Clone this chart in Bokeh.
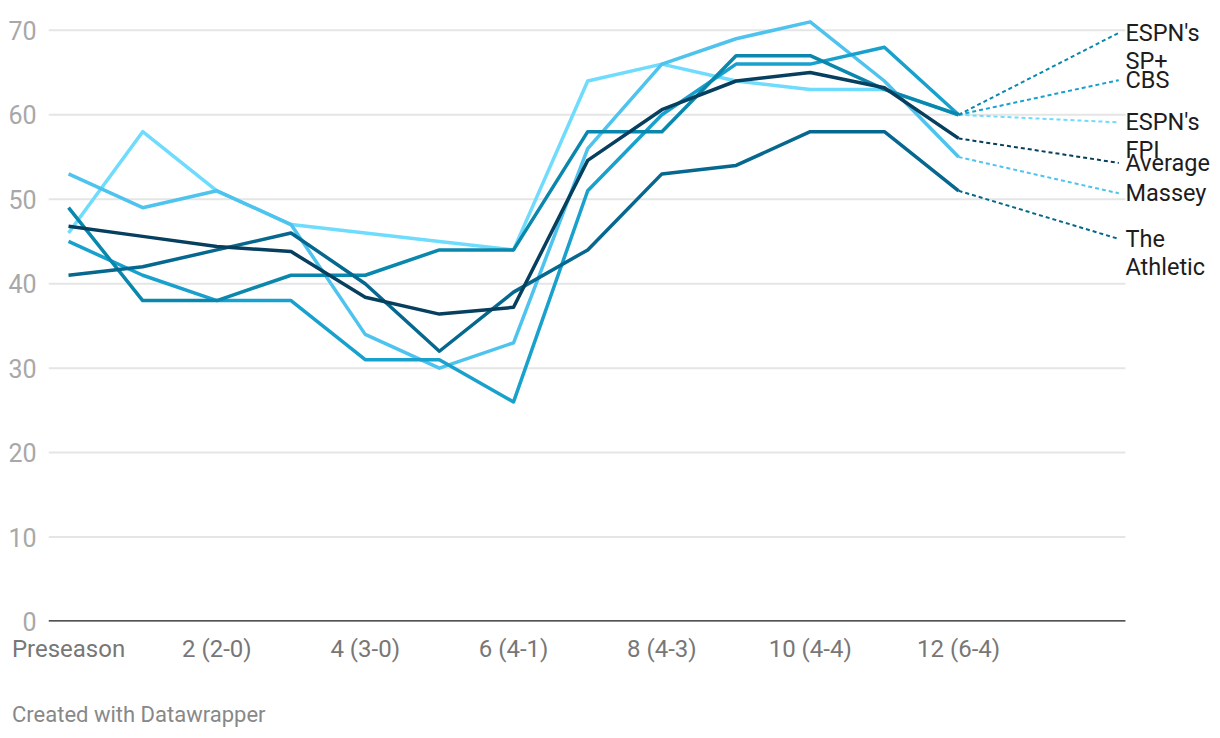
from bokeh.plotting import figure
from bokeh.models import FixedTicker, Range1d, ColumnDataSource, Div
from bokeh.layouts import column
from bokeh.embed import file_html
from bokeh.resources import INLINE

# ---- data ----
weeks = list(range(13))
tick_weeks = [0, 2, 4, 6, 8, 10, 12]
tick_labels = ["Preseason", "2 (2-0)", "4 (3-0)", "6 (4-1)", "8 (4-3)", "10 (4-4)", "12 (6-4)"]
y_ticks = [0, 10, 20, 30, 40, 50, 60, 70]

espn_fpi = [46, 58, 51, 47, 46, 45, 44, 64, 66, 64, 63, 63, 60]
massey = [53, 49, 51, 47, 34, 30, 33, 56, 66, 69, 71, 64, 55]
cbs = [45, 41, 38, 38, 31, 31, 26, 51, 60, 66, 66, 68, 60]
espn_sp = [49, 38, 38, 41, 41, 44, 44, 58, 58, 67, 67, 63, 60]
athletic = [41, 42, 44, 46, 40, 32, 39, 44, 53, 54, 58, 58, 51]
average = [46.8, 45.6, 44.4, 43.8, 38.4, 36.4, 37.2, 54.6, 60.6, 64.0, 65.0, 63.2, 57.2]

series_names = [["ESPN's", "FPI"], ["Massey"], ["CBS"], ["ESPN's", "SP+"], ["The", "Athletic"], ["Average"]]
series_values = [espn_fpi, massey, cbs, espn_sp, athletic, average]

# ---- styles / layout ----
colors = ["#6fdcfd", "#4dc3ee", "#18a1cd", "#0987ad", "#06688f", "#073f5e"]
label_y = [59.1, 50.7, 64.1, 69.7, 45.3, 54.3]
FONT = "Roboto"

W, H = 1212, 680
BL, BT, BB = 48, 18, 59
Y0, Y1 = 0, 71.4
X0 = -0.27
PLOT_END = 14.25          # right edge of grid area
px_per_x = 74.17
X1 = X0 + (W - BL) / px_per_x
px_per_y = (H - BT - BB) / (Y1 - Y0)
LINE_GAP = 28 / px_per_y

p = figure(width=W, height=H, output_backend="svg", toolbar_location=None,
           x_range=Range1d(X0, X1), y_range=Range1d(Y0, Y1),
           min_border_left=BL, min_border_right=0, min_border_top=BT, min_border_bottom=BB)
p.outline_line_color = None
p.background_fill_color = "white"
p.border_fill_color = "white"

p.xgrid.visible = False
p.ygrid.visible = False

# horizontal gridlines limited to the plot area (not under the labels)
grid_y = [t for t in y_ticks if t != 0]
p.segment(x0=[X0] * len(grid_y), x1=[PLOT_END] * len(grid_y), y0=grid_y, y1=grid_y,
          line_color="#e5e5e5", line_width=2)

p.yaxis.ticker = FixedTicker(ticks=y_ticks)
p.yaxis.axis_line_color = None
p.yaxis.major_tick_line_color = None
p.yaxis.minor_tick_line_color = None
p.yaxis.major_label_text_color = "#a8a8a8"
p.yaxis.major_label_text_font = FONT
p.yaxis.major_label_text_font_size = "25px"
p.yaxis.major_label_standoff = 6

p.xaxis.ticker = FixedTicker(ticks=tick_weeks)
p.xaxis.major_label_overrides = {w: t for w, t in zip(tick_weeks, tick_labels)}
p.xaxis.axis_line_color = None
p.xaxis.major_tick_line_color = None
p.xaxis.minor_tick_line_color = None
p.xaxis.major_label_text_color = "#777777"
p.xaxis.major_label_text_font = FONT
p.xaxis.major_label_text_font_size = "24px"
p.xaxis.major_label_standoff = 7

last_x = weeks[-1]
end_x = 14.16
text_x = 14.25
lx, ly_all, lt = [], [], []
for names, vals, col, ly in zip(series_names, series_values, colors, label_y):
    p.line(weeks, vals, line_color=col, line_width=3.5, line_join="round")
    p.line([last_x, end_x], [vals[-1], ly], line_color=col, line_width=2, line_dash="4 3")
    for i, nm in enumerate(names):
        lx.append(text_x)
        ly_all.append(ly - i * LINE_GAP)
        lt.append(nm)

# zero baseline
p.segment(x0=[X0], x1=[PLOT_END], y0=[0], y1=[0], line_color="#1a1a1a", line_width=2.5)

src = ColumnDataSource(dict(x=lx, y=ly_all, text=lt))
p.text(x="x", y="y", text="text", source=src, text_font={"value": FONT},
       text_font_size="23.5px", text_color="#1d1d1d", text_baseline="middle", text_align="left")

footer = Div(text="Created with Datawrapper", margin=(22, 0, 0, 12),
             styles={"font-family": FONT, "font-size": "22px", "color": "#888888",
                     "line-height": "26px", "white-space": "nowrap"})

layout = column(p, footer, spacing=0)
open("out.html", "w").write(file_html(layout, INLINE))
